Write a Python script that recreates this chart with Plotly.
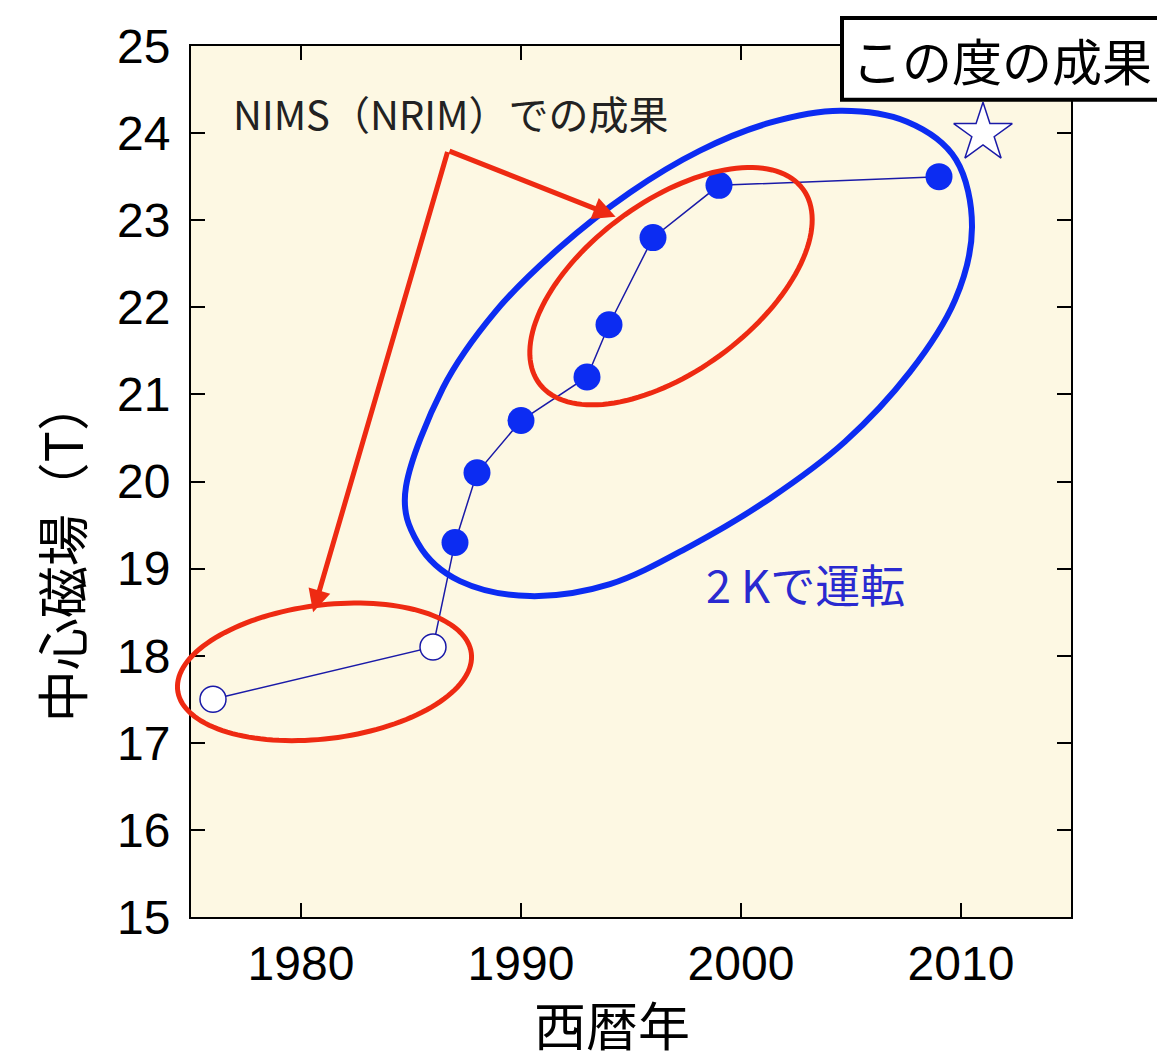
import numpy as np
import plotly.graph_objects as go

# ---- data ----
open_years = [1976, 1986]
open_field = [17.5, 18.1]
filled_years = [1987, 1988, 1990, 1993, 1994, 1996, 1999, 2009]
filled_field = [19.3, 20.1, 20.7, 21.2, 21.8, 22.8, 23.4, 23.5]
line_years = open_years + filled_years
line_field = open_field + filled_field
star_year = [2011]
star_field = [24.0]

x_ticks = [1980, 1990, 2000, 2010]
y_ticks = list(range(15, 26))

X_RANGE = [1975, 2015]
Y_RANGE = [15, 25]

# page has an 8px body margin, so the figure is 8px smaller than the window
W, H = 1157, 1056
ML, MR, MT, MB = 183, 94, 35, 147
PW = W - ML - MR   # 880
PH = H - MT - MB   # 874

# plot box as seen in the browser window (used for decoration placement)
BOX_L, BOX_B = ML + 8, MT + 8 + PH


def wp(px, py):
    """window pixel -> paper coords"""
    return (px - BOX_L) / PW, (BOX_B - py) / PH


BLUE = "#0c2cf2"
LINE_BLUE = "#1a1aa8"
RED = "#ee2a12"


def ellipse_path(cx, cy, a, b, theta_deg, n=140):
    t = np.linspace(0, 2 * np.pi, n)
    th = np.deg2rad(theta_deg)
    dx = a * np.cos(t) * np.cos(th) - b * np.sin(t) * np.sin(th)
    dy = a * np.cos(t) * np.sin(th) + b * np.sin(t) * np.cos(th)
    pts = [wp(cx + u, cy - v) for u, v in zip(dx, dy)]
    return "M " + " L ".join(f"{x:.5f},{y:.5f}" for x, y in pts) + " Z"


def closed_spline_path(pts_px):
    P = [np.array(wp(*p)) for p in pts_px]
    n = len(P)
    d = f"M {P[0][0]:.5f},{P[0][1]:.5f}"
    for i in range(n):
        p0, p1, p2, p3 = P[i - 1], P[i], P[(i + 1) % n], P[(i + 2) % n]
        c1 = p1 + (p2 - p0) / 6
        c2 = p2 - (p3 - p1) / 6
        d += (f" C {c1[0]:.5f},{c1[1]:.5f} {c2[0]:.5f},{c2[1]:.5f}"
              f" {p2[0]:.5f},{p2[1]:.5f}")
    return d + " Z"


# hand-drawn outline of the "2 K operation" group (window pixels)
blue_outline = [
    (406, 485), (418, 542), (460, 580), (530, 595), (610, 583), (690, 545),
    (770, 497), (845, 440), (910, 370), (955, 298), (972, 225), (956, 157),
    (907, 119), (840, 108), (770, 120), (700, 148), (630, 190), (560, 245),
    (495, 310), (443, 386),
]

fig = go.Figure()

fig.add_trace(go.Scatter(
    x=line_years, y=line_field, mode="lines",
    line=dict(color=LINE_BLUE, width=1.5), hoverinfo="skip", showlegend=False))
fig.add_trace(go.Scatter(
    x=open_years, y=open_field, mode="markers",
    marker=dict(symbol="circle", size=26, color="white",
                line=dict(color=LINE_BLUE, width=1.5)), showlegend=False))
fig.add_trace(go.Scatter(
    x=filled_years, y=filled_field, mode="markers",
    marker=dict(symbol="circle", size=27, color=BLUE,
                line=dict(color=BLUE, width=0)), showlegend=False))
fig.add_trace(go.Scatter(
    x=star_year, y=star_field, mode="markers",
    marker=dict(symbol="star", size=44, color="white",
                line=dict(color=LINE_BLUE, width=1.5)), showlegend=False))

bx0, by0 = wp(842, 97)
bx1, by1 = wp(1200, 15)
shapes = [
    dict(type="path", xref="paper", yref="paper", layer="above",
         path=closed_spline_path(blue_outline),
         line=dict(color=BLUE, width=6)),
    dict(type="path", xref="paper", yref="paper", layer="above",
         path=ellipse_path(671, 284, 164, 85, 36.5),
         line=dict(color=RED, width=5)),
    dict(type="path", xref="paper", yref="paper", layer="above",
         path=ellipse_path(324.5, 671, 148, 67, 7.3),
         line=dict(color=RED, width=5)),
    dict(type="rect", xref="paper", yref="paper", layer="above",
         x0=bx0, x1=bx1, y0=by0, y1=by1,
         fillcolor="white", line=dict(color="black", width=4)),
]


def txt(px, py, text, size, color="black", angle=0):
    x, y = wp(px, py)
    return dict(x=x, y=y, xref="paper", yref="paper", text=text,
                showarrow=False, textangle=angle,
                font=dict(family="Noto Sans CJK JP", size=size, color=color),
                xanchor="center", yanchor="middle")


annotations = [
    dict(x=1994.3, y=23.04, ax=1986.68, ay=23.80, xref="x", yref="y",
         axref="x", ayref="y", text="", showarrow=True, arrowhead=2,
         arrowsize=0.9, arrowwidth=5, arrowcolor=RED, standoff=0),
    dict(x=1980.55, y=18.50, ax=1986.68, ay=23.80, xref="x", yref="y",
         axref="x", ayref="y", text="", showarrow=True, arrowhead=2,
         arrowsize=0.9, arrowwidth=5, arrowcolor=RED, standoff=0),
    txt(450, 110, "NIMS（NRIM）での成果", 40, "#222222"),
    txt(805, 582, "2 Kで運転", 45, "#2a2ad0"),
    txt(1002, 56, "この度の成果", 50),
    txt(612, 1024, "西暦年", 52),
    txt(60, 550, "中心磁場（T）", 52, angle=-90),
]

axis_common = dict(showgrid=False, zeroline=False, showline=True,
                   linecolor="black", linewidth=2, mirror="ticks",
                   ticks="inside", ticklen=14, tickwidth=2, tickcolor="black")

fig.update_layout(
    width=W, height=H,
    margin=dict(l=ML, r=MR, t=MT, b=MB),
    paper_bgcolor="white",
    plot_bgcolor="#fdf8e3",
    showlegend=False,
    shapes=shapes,
    annotations=annotations,
    xaxis=dict(range=X_RANGE, tickvals=x_ticks, ticklabelstandoff=3,
               tickfont=dict(family="Liberation Sans", size=48, color="black"),
               **axis_common),
    yaxis=dict(range=Y_RANGE, tickvals=y_ticks, ticklabelstandoff=9,
               tickfont=dict(family="Liberation Sans", size=48, color="black"),
               **axis_common),
)

fig.write_html("out.html")
